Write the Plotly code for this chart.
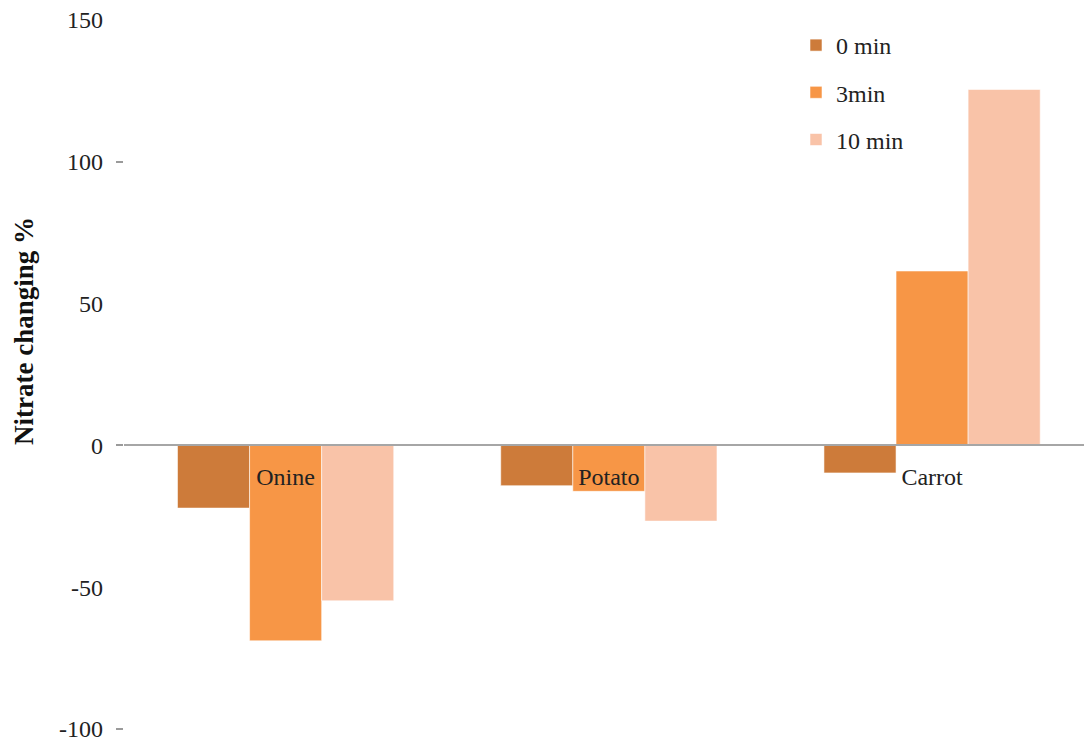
import plotly.graph_objects as go

# Vegetables and nitrate change (%) after each cooking time
vegetables = ["Onine", "Potato", "Carrot"]
change_0min = [-22.1, -14.2, -9.7]
change_3min = [-68.9, -16.2, 61.5]
change_10min = [-54.8, -26.7, 125.5]

series_names = ["0 min", "3min", "10 min"]
series_colors = ["#CD7B3A", "#F79646", "#F9C3A8"]
y_ticks = [150, 100, 50, 0, -50, -100]

SERIF = "Liberation Serif"

fig = go.Figure()
for name, vals, color in zip(series_names, [change_0min, change_3min, change_10min], series_colors):
    fig.add_trace(go.Bar(
        x=vegetables,
        y=vals,
        name=name,
        legendgroup=name,
        marker=dict(color=color, line=dict(color="rgba(255,255,255,0.55)", width=1)),
    ))

fig.update_layout(
    width=1084,
    height=748,
    margin=dict(l=124, r=0, t=20, b=19),
    paper_bgcolor="white",
    plot_bgcolor="white",
    barmode="group",
    bargap=0.331,
    bargroupgap=0,
    font=dict(family=SERIF, size=24, color="#222222"),
    showlegend=True,
    legend=dict(
        x=0.70, y=1.0 - 3 / 709, xanchor="left", yanchor="top",
        bgcolor="rgba(0,0,0,0)",
        font=dict(family=SERIF, size=24, color="#222222"),
        traceorder="grouped",
        tracegroupgap=13,
        itemwidth=30,
    ),
    xaxis=dict(
        range=[-0.5, 2.47],
        anchor="free",
        position=(0 - (-100)) / 250,
        showline=True,
        linecolor="#A6A6A6",
        linewidth=1.5,
        showgrid=False,
        zeroline=False,
        ticks="",
        ticklabelstandoff=10,
        tickfont=dict(family=SERIF, size=24, color="#222222"),
    ),
    yaxis=dict(
        range=[-100, 150],
        tickvals=y_ticks,
        ticktext=[str(v) for v in y_ticks],
        showline=False,
        showgrid=False,
        zeroline=False,
        ticks="",
        ticklabelstandoff=20,
        tickfont=dict(family=SERIF, size=24, color="#222222"),
        minor=dict(ticks="outside", tick0=0, dtick=100, ticklen=7, tickcolor="#9A9A9A", tickwidth=1.5),
    ),
    annotations=[
        dict(
            text="<b>Nitrate changing %</b>",
            xref="paper", yref="paper",
            x=(24 - 124) / 960, y=(729 - 331) / 709,
            xanchor="center", yanchor="middle",
            textangle=-90,
            showarrow=False,
            font=dict(family=SERIF, size=27, color="#111111"),
        )
    ],
)

fig.write_html("out.html")
